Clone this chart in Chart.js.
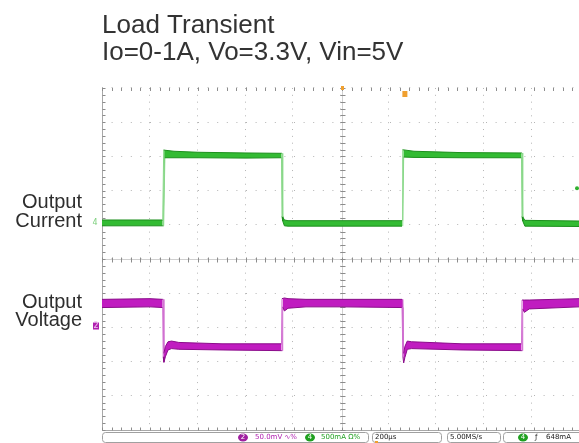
<!DOCTYPE html>
<html>
<head>
<meta charset="utf-8">
<script src="https://cdn.jsdelivr.net/npm/chart.js@4.4.1/dist/chart.umd.min.js"></script>
<style>
  html, body { margin: 0; padding: 0; background: #fff; }
</style>
</head>
<body>
<canvas id="myChart" width="579" height="443"></canvas>
<script>
// scope capture, 200us/div, trigger point at centre = 0us
var timeUs    = [-1000, -747, -743, -738, -700, -600, -400, -252, -250, -247, -240, -225, 0, 250, 253, 257, 300, 500, 748, 750, 753, 762, 987.5];
// ch4 output current (mA), top and bottom edge of the noisy trace
var currentHi = [45, 45, 1070, 1065, 1050, 1035, 1025, 1020, 1020, 90, 45, 35, 35, 35, 1075, 1070, 1050, 1030, 1025, 1025, 90, 40, 30];
var currentLo = [-40, -40, -40, 955, 955, 955, 950, 955, 100, 30, -40, -45, -45, -45, -45, 965, 960, 955, 955, 100, 30, -45, -50];

// ch2 output voltage (mV, AC coupled)
var voltTimeUs = [-1000, -800, -747, -745, -742, -736, -725, -710, -680, -500, -252, -250, -247, -240, -225, -150, 0, 250, 254, 257, 262, 272, 290, 500, 748, 750, 753, 760, 780, 987.5];
var voltHi = [39, 40, 39, 39, -40, -30, -23, -22, -24, -26, -26, 40, 40, 41, 40, 39, 39, 39, 39, -40, -30, -22, -23, -26, -26, 38, 38, 38, 38, 40];
var voltLo = [27, 28, 27, -45, -53, -45, -35, -33, -34, -35, -36, -36, 28, 22, 26, 28, 28, 27, -45, -54, -46, -34, -33, -35, -36, -36, 25, 20, 25, 28];

var titleLines = ['Load Transient', 'Io=0-1A, Vo=3.3V, Vin=5V'];

function pts(xs, ys) {
  return xs.map(function (x, i) { return { x: x, y: ys[i] }; });
}

// thin light line on the steep edges, darker on the flat parts
function edgeColor(light, dark, jump) {
  return function (c) {
    return Math.abs(c.p1.parsed.y - c.p0.parsed.y) > jump ? light : dark;
  };
}

var graticule = {
  id: 'graticule',
  beforeDatasetsDraw: function (chart) {
    var ctx = chart.ctx, a = chart.chartArea, s = chart.scales;
    var cx = Math.round(s.x.getPixelForValue(0)) + 0.5;
    var cy = Math.round(s.yDiv.getPixelForValue(0)) + 0.5;
    var stepX = (s.x.getPixelForValue(200) - s.x.getPixelForValue(0)) / 5;
    var stepY = (s.yDiv.getPixelForValue(0) - s.yDiv.getPixelForValue(1)) / 5;
    var left = Math.round(a.left) + 0.5, bottom = Math.round(a.bottom) + 0.5;
    ctx.save();
    ctx.lineWidth = 1;
    ctx.strokeStyle = '#d0d0d0';
    ctx.beginPath();
    ctx.moveTo(a.left, cy); ctx.lineTo(a.right, cy);
    ctx.moveTo(cx, a.top); ctx.lineTo(cx, a.bottom);
    ctx.stroke();
    ctx.strokeStyle = '#a8a8a8';
    ctx.beginPath();
    ctx.moveTo(left, a.top); ctx.lineTo(left, bottom); ctx.lineTo(a.right, bottom);
    ctx.stroke();
    ctx.strokeStyle = '#8c8c8c';
    ctx.beginPath();
    var x, y;
    for (x = a.left; x <= a.right; x += stepX) {
      var px = Math.round(x) + 0.5;
      ctx.moveTo(px, cy - 2); ctx.lineTo(px, cy + 3);
      ctx.moveTo(px, bottom - 3); ctx.lineTo(px, bottom);
      ctx.moveTo(px, a.top); ctx.lineTo(px, a.top + 3);
    }
    for (y = a.top; y <= a.bottom; y += stepY) {
      var py = Math.round(y) + 0.5;
      ctx.moveTo(cx - 2, py); ctx.lineTo(cx + 3, py);
      ctx.moveTo(left, py); ctx.lineTo(left + 3, py);
    }
    ctx.stroke();
    ctx.restore();
  },
  afterDraw: function (chart) {
    var ctx = chart.ctx, s = chart.scales;
    ctx.save();
    // channel names on the left
    ctx.fillStyle = '#2e2e2e';
    ctx.font = '20px "Liberation Sans", Arial, sans-serif';
    ctx.textAlign = 'right';
    ctx.textBaseline = 'alphabetic';
    ctx.fillText('Output', 82, 208);
    ctx.fillText('Current', 82, 227);
    ctx.fillText('Output', 82, 308);
    ctx.fillText('Voltage', 82, 326);

    // channel ground markers
    var gI = s.yI.getPixelForValue(0), gV = s.yV.getPixelForValue(0);
    ctx.textAlign = 'center';
    ctx.textBaseline = 'middle';
    ctx.font = '8px "DejaVu Sans", sans-serif';
    ctx.fillStyle = '#7ccf7c';
    ctx.fillText('4', 95, gI);
    ctx.fillStyle = '#b020b0';
    ctx.fillRect(93, gV - 3.5, 6, 7);
    ctx.fillStyle = '#f0c8f0';
    ctx.fillText('2', 96, gV);

    // horizontal position and trigger markers
    var cx = s.x.getPixelForValue(0);
    ctx.fillStyle = '#f0a030';
    ctx.fillRect(Math.round(cx) - 1, 86, 3, 4);
    var tx = s.x.getPixelForValue(262);
    ctx.fillRect(tx - 2.5, 91, 5, 6);
    ctx.fillStyle = '#30b030';
    ctx.beginPath(); ctx.arc(577, s.yI.getPixelForValue(510), 2, 0, Math.PI * 2); ctx.fill();

    // status bar
    ctx.strokeStyle = '#a0a0a0';
    ctx.lineWidth = 1;
    [[102.5, 266], [372.5, 69], [447.5, 53], [503.5, 80]].forEach(function (b) {
      ctx.beginPath();
      ctx.roundRect(b[0], 432.5, b[1], 10, 3);
      ctx.stroke();
    });
    function badge(x, fill, n) {
      ctx.fillStyle = fill;
      ctx.beginPath(); ctx.ellipse(x, 437.5, 5, 4, 0, 0, Math.PI * 2); ctx.fill();
      ctx.fillStyle = '#ffffff';
      ctx.textAlign = 'center';
      ctx.fillText(n, x, 437.5);
    }
    ctx.font = '7px "DejaVu Sans", sans-serif';
    badge(243, '#a020a0', '2');
    badge(310, '#20a020', '4');
    badge(523, '#20a020', '4');
    ctx.textAlign = 'left';
    ctx.fillStyle = '#b020b0';
    ctx.fillText('50.0mV \u223f%', 255, 437.5);
    ctx.fillStyle = '#20a020';
    ctx.fillText('500mA \u03a9%', 321, 437.5);
    ctx.fillStyle = '#202020';
    ctx.fillText('200\u00b5s', 375, 437.5);
    ctx.fillText('5.00MS/s', 450, 437.5);
    ctx.fillText('\u0192', 535, 437.5);
    ctx.fillText('648mA', 546, 437.5);
    ctx.fillStyle = '#f0a030';
    ctx.fillRect(375, 441, 3, 2);
    ctx.restore();
  }
};

var ctx = document.getElementById('myChart');
new Chart(ctx, {
  type: 'line',
  data: {
    datasets: [
      {
        label: 'Current max',
        data: pts(timeUs, currentHi),
        yAxisID: 'yI',
        borderWidth: 1,
        segment: { borderColor: edgeColor('#8ad88a', '#1d8f1d', 300) },
        fill: false
      },
      {
        label: 'Current min',
        data: pts(timeUs, currentLo),
        yAxisID: 'yI',
        borderWidth: 1,
        segment: { borderColor: edgeColor('#8ad88a', '#1d8f1d', 300) },
        backgroundColor: '#33bb33',
        fill: '-1'
      },
      {
        label: 'Voltage max',
        data: pts(voltTimeUs, voltHi),
        yAxisID: 'yV',
        borderWidth: 1,
        segment: { borderColor: edgeColor('#d070d0', '#8a0c8a', 40) },
        fill: false
      },
      {
        label: 'Voltage min',
        data: pts(voltTimeUs, voltLo),
        yAxisID: 'yV',
        borderWidth: 1,
        segment: { borderColor: edgeColor('#d070d0', '#8a0c8a', 40) },
        backgroundColor: '#c01cc0',
        fill: '-1'
      }
    ]
  },
  options: {
    responsive: false,
    animation: false,
    elements: { point: { radius: 0 }, line: { tension: 0 } },
    layout: { padding: { left: 102, right: 0, top: 0, bottom: 13 } },
    scales: {
      x: {
        type: 'linear',
        min: -1000,
        max: 987.5,
        ticks: { display: false, stepSize: 200, includeBounds: false },
        grid: { color: '#b4b4b4', lineWidth: 1, drawTicks: false },
        border: { display: false, dash: [1, 5.84] }
      },
      yDiv: {
        position: 'left',
        min: -5,
        max: 5,
        ticks: { display: false, stepSize: 1 },
        grid: { color: '#b4b4b4', lineWidth: 1, drawTicks: false },
        border: { display: false, dash: [1, 8.6] }
      },
      yI: { display: false, min: -3025, max: 1975 },
      yV: { display: false, min: -152, max: 348 }
    },
    plugins: {
      legend: { display: false },
      tooltip: { enabled: false },
      title: {
        display: true,
        text: titleLines,
        align: 'start',
        color: '#333333',
        font: { family: '"Liberation Sans", Arial, sans-serif', size: 26, weight: 'normal', lineHeight: 1.04 },
        padding: { top: 12.5, bottom: 21.4 }
      }
    }
  },
  plugins: [graticule]
});
</script>
</body>
</html>
